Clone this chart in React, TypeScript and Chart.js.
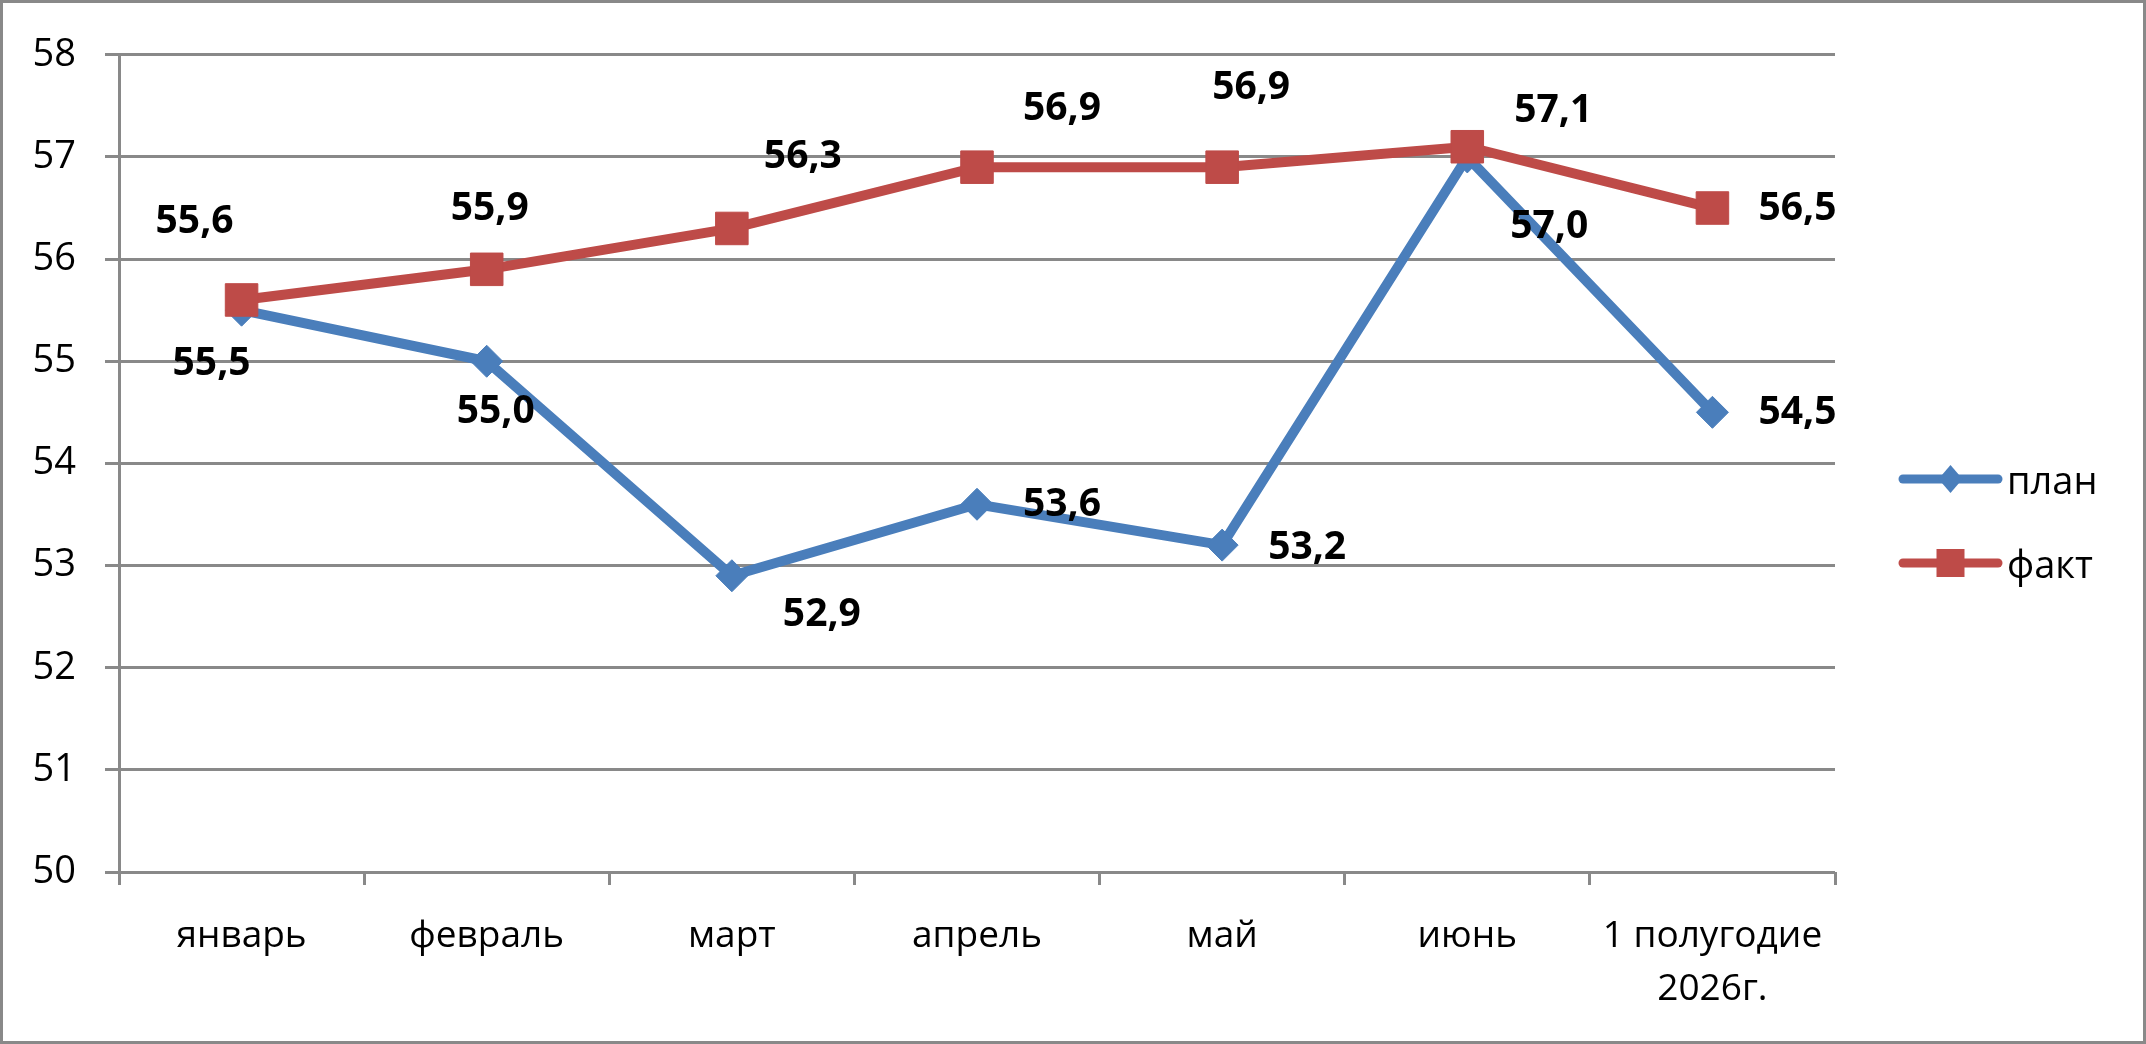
import React, { useEffect, useRef } from "react";
import { Chart, registerables } from "chart.js";

Chart.register(...registerables);

const categories = [
  "январь",
  "февраль",
  "март",
  "апрель",
  "май",
  "июнь",
  ["1 полугодие", "2026г."],
];
const planValues = [55.5, 55.0, 52.9, 53.6, 53.2, 57.0, 54.5];
const factValues = [55.6, 55.9, 56.3, 56.9, 56.9, 57.1, 56.5];
const yMin = 50;
const yMax = 58;

// hand-placed value labels, offset in px from their point
const planLabelShift = [[-30, 54], [9, 51], [90, 39], [85, 1], [85, 3], [82, 70], [85, 1]];
const factLabelShift = [[-47, -78], [3, -60], [71, -72], [85, -58], [29, -79], [86, -36], [85, 1]];

const BLUE = "#4a7ebb";
const RED = "#be4b48";
const GRID = "#898989";
const FONT = "'Open Sans', 'Noto Sans', sans-serif";

const fmt = (v: number) => v.toFixed(1).replace(".", ",");

const valueLabels = {
  id: "valueLabels",
  afterDatasetsDraw(chart: any) {
    const ctx = chart.ctx;
    ctx.save();
    ctx.font = `bold 39px ${FONT}`;
    ctx.fillStyle = "#000";
    ctx.textAlign = "center";
    ctx.textBaseline = "middle";
    chart.data.datasets.forEach((ds: any, di: number) => {
      const meta = chart.getDatasetMeta(di);
      const shifts = di === 0 ? planLabelShift : factLabelShift;
      meta.data.forEach((pt: any, i: number) => {
        ctx.fillText(fmt(ds.data[i]), pt.x + shifts[i][0], pt.y + shifts[i][1]);
      });
    });
    ctx.restore();
  },
};

// legend on the right: line with marker in the middle, like Excel
const sideLegend = {
  id: "sideLegend",
  afterDraw(chart: any) {
    const ctx = chart.ctx;
    const x0 = chart.chartArea.right + 68;
    const x1 = x0 + 95;
    const mid = (x0 + x1) / 2;
    const rows = [
      { label: "план", color: BLUE, y: 476, shape: "diamond" },
      { label: "факт", color: RED, y: 560, shape: "square" },
    ];
    ctx.save();
    rows.forEach((r) => {
      ctx.strokeStyle = r.color;
      ctx.lineWidth = 9;
      ctx.lineCap = "round";
      ctx.beginPath();
      ctx.moveTo(x0, r.y);
      ctx.lineTo(x1, r.y);
      ctx.stroke();
      ctx.fillStyle = r.color;
      ctx.beginPath();
      if (r.shape === "diamond") {
        ctx.moveTo(mid, r.y - 14);
        ctx.lineTo(mid + 12, r.y);
        ctx.lineTo(mid, r.y + 14);
        ctx.lineTo(mid - 12, r.y);
        ctx.closePath();
      } else {
        ctx.rect(mid - 14, r.y - 14, 28, 28);
      }
      ctx.fill();
      ctx.fillStyle = "#000";
      ctx.font = `38px ${FONT}`;
      ctx.textAlign = "left";
      ctx.textBaseline = "alphabetic";
      ctx.fillText(r.label, x1 + 9, r.y + 15);
    });
    ctx.restore();
  },
};

const PlanFactChart = () => {
  const canvasRef = useRef<HTMLCanvasElement>(null);
  const chartRef = useRef<Chart | null>(null);

  useEffect(() => {
    if (!canvasRef.current) return;
    if (chartRef.current) chartRef.current.destroy();

    chartRef.current = new Chart(canvasRef.current, {
      type: "line",
      data: {
        labels: categories,
        datasets: [
          {
            label: "план",
            data: planValues,
            borderColor: BLUE,
            backgroundColor: BLUE,
            borderWidth: 10,
            pointStyle: "rectRot",
            pointRadius: 16,
            pointBorderWidth: 1,
            pointBackgroundColor: BLUE,
            pointBorderColor: BLUE,
            tension: 0,
            order: 1,
          },
          {
            label: "факт",
            data: factValues,
            borderColor: RED,
            backgroundColor: RED,
            borderWidth: 10,
            pointStyle: "rect",
            pointRadius: 23,
            pointBorderWidth: 1,
            pointBackgroundColor: RED,
            pointBorderColor: RED,
            tension: 0,
            order: 0,
          },
        ],
      },
      options: {
        responsive: true,
        maintainAspectRatio: false,
        animation: false,
        layout: { padding: { top: 49, right: 308, left: 0, bottom: 0 } },
        scales: {
          x: {
            offset: true,
            grid: {
              offset: true,
              drawOnChartArea: false,
              drawTicks: true,
              tickLength: 13,
              color: GRID,
              lineWidth: 3,
            },
            border: { display: false },
            ticks: {
              color: "#000",
              padding: 25,
              maxRotation: 0,
              autoSkip: false,
              font: { family: FONT, size: 37, lineHeight: 1.43 },
            },
            afterFit: (scale: any) => {
              scale.height = 169;
            },
          },
          y: {
            min: yMin,
            max: yMax,
            ticks: {
              stepSize: 1,
              color: "#000",
              padding: 29,
              font: { family: FONT, size: 38 },
            },
            grid: { color: GRID, lineWidth: 3, tickLength: 14 },
            border: { display: true, color: GRID, width: 3 },
            afterFit: (scale: any) => {
              scale.width = 116;
            },
          },
        },
        plugins: {
          legend: { display: false },
          tooltip: { enabled: false },
        },
      },
      plugins: [valueLabels, sideLegend],
    });

    return () => {
      if (chartRef.current) {
        chartRef.current.destroy();
        chartRef.current = null;
      }
    };
  }, []);

  return (
    <div
      style={{
        position: "fixed",
        inset: 0,
        boxSizing: "border-box",
        border: `3px solid ${GRID}`,
        background: "#fff",
      }}
    >
      <div style={{ position: "relative", width: "100%", height: "100%" }}>
        <canvas ref={canvasRef} />
      </div>
    </div>
  );
};

export default function App() {
  return <PlanFactChart />;
}
